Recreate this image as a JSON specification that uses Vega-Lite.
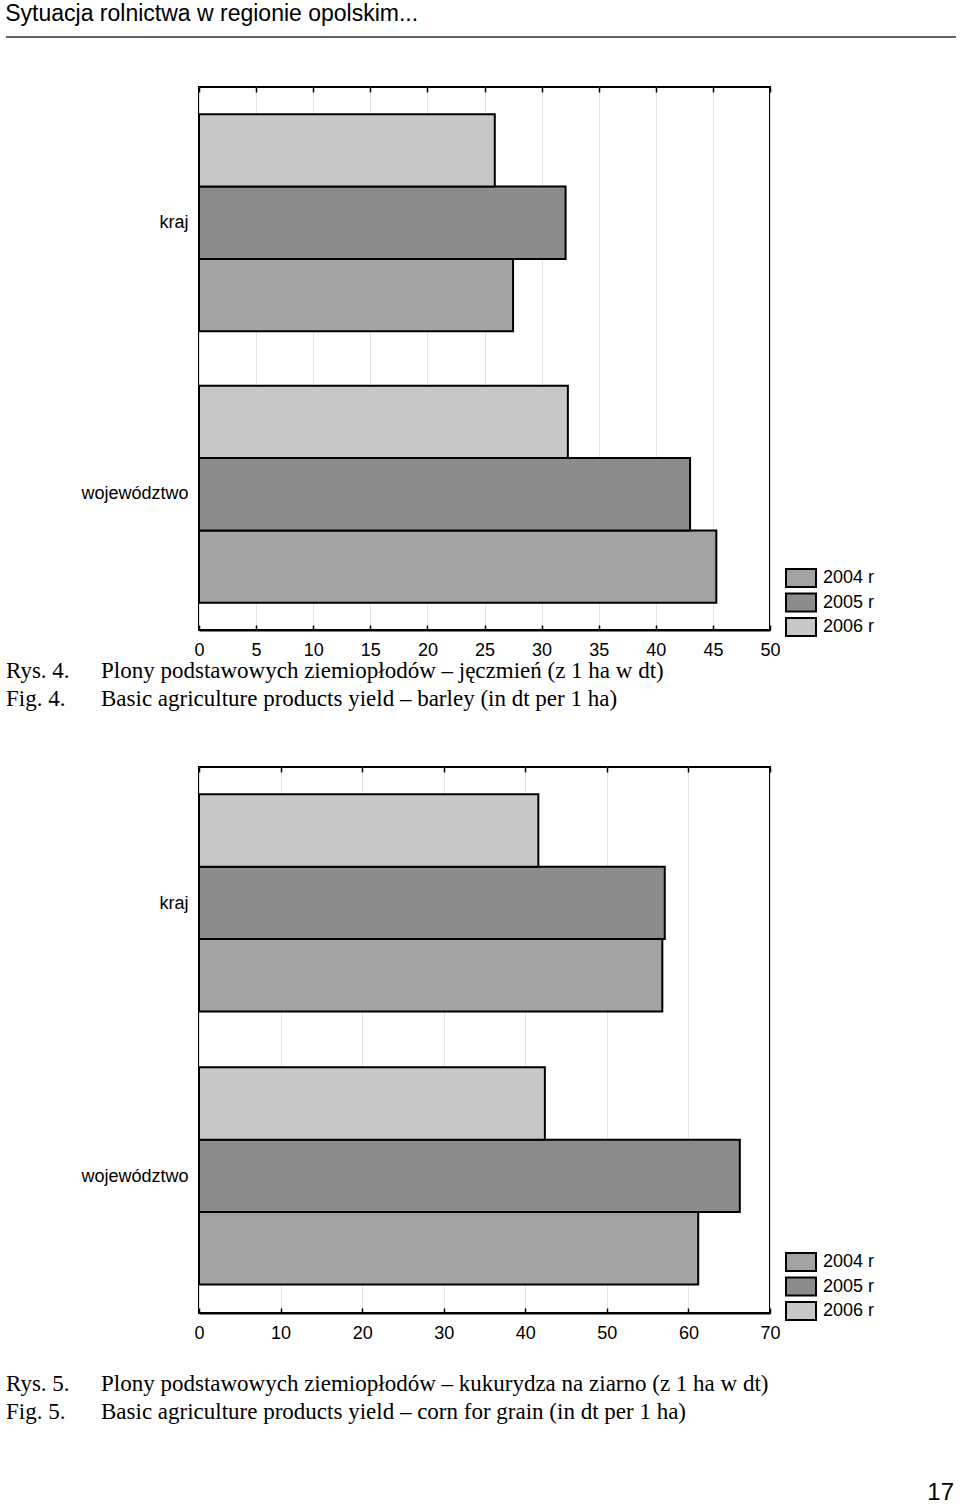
{
  "$schema": "https://vega.github.io/schema/vega-lite/v6.json",
  "background": "white",
  "padding": {"left": 5, "top": 3, "right": 5, "bottom": 0},
  "spacing": 0,
  "bounds": "flush",
  "resolve": {"scale": {"color": "independent"}, "legend": {"color": "independent"}},
  "config": {
    "font": "Liberation Sans",
    "view": {"stroke": "black", "strokeWidth": 2},
    "axis": {"labelFont": "Liberation Sans", "labelColor": "black", "labelFontSize": 18},
    "legend": {"labelFont": "Liberation Sans", "labelColor": "black", "labelFontSize": 18}
  },
  "datasets": {
    "barley": [
      {"region": "kraj", "rok": "2004 r", "plon": 27.5},
      {"region": "kraj", "rok": "2005 r", "plon": 32.1},
      {"region": "kraj", "rok": "2006 r", "plon": 25.9},
      {"region": "województwo", "rok": "2004 r", "plon": 45.3},
      {"region": "województwo", "rok": "2005 r", "plon": 43.0},
      {"region": "województwo", "rok": "2006 r", "plon": 32.3}
    ],
    "corn": [
      {"region": "kraj", "rok": "2004 r", "plon": 56.8},
      {"region": "kraj", "rok": "2005 r", "plon": 57.1},
      {"region": "kraj", "rok": "2006 r", "plon": 41.6},
      {"region": "województwo", "rok": "2004 r", "plon": 61.2},
      {"region": "województwo", "rok": "2005 r", "plon": 66.3},
      {"region": "województwo", "rok": "2006 r", "plon": 42.4}
    ],
    "cap1": [
      {"c": "l", "r": 1, "t": "Rys. 4."},
      {"c": "r", "r": 1, "t": "Plony podstawowych ziemiopłodów – jęczmień (z 1 ha w dt)"},
      {"c": "l", "r": 2, "t": "Fig. 4."},
      {"c": "r", "r": 2, "t": "Basic agriculture products yield – barley (in dt per 1 ha)"}
    ],
    "cap2": [
      {"c": "l", "r": 1, "t": "Rys. 5."},
      {"c": "r", "r": 1, "t": "Plony podstawowych ziemiopłodów – kukurydza na ziarno (z 1 ha w dt)"},
      {"c": "l", "r": 2, "t": "Fig. 5."},
      {"c": "r", "r": 2, "t": "Basic agriculture products yield – corn for grain  (in dt per 1 ha)"}
    ],
    "line": [{"a": 0, "b": 950}]
  },
  "vconcat": [
    {
      "width": 757,
      "height": 50,
      "view": {"stroke": null},
      "title": {"text": "Sytuacja rolnictwa w regionie opolskim...", "anchor": "start", "dx": 0, "fontSize": 23, "font": "Liberation Sans", "fontWeight": "normal", "color": "black", "baseline": "alphabetic", "offset": -8},
      "data": {"name": "line"},
      "mark": {"type": "rule", "color": "#333333", "strokeWidth": 1.5},
      "encoding": {
        "x": {"field": "a", "type": "quantitative", "scale": {"domain": [0, 950], "range": [-193, 757]}, "axis": null},
        "x2": {"field": "b"},
        "y": {"value": 0}
      }
    },
    {
      "width": 571,
      "height": 543,
      "data": {"name": "barley"},
      "layer": [
        {
          "mark": {"type": "bar", "stroke": "black", "strokeWidth": 2},
          "encoding": {
            "y": {"field": "region", "type": "nominal", "sort": ["kraj", "województwo"], "scale": {"paddingInner": 0.2, "paddingOuter": 0.1}, "axis": {"title": null, "ticks": false, "domain": false, "labelPadding": 11, "grid": false}},
            "yOffset": {"field": "rok", "sort": "descending"},
            "x": {"field": "plon", "type": "quantitative", "scale": {"domain": [0, 50], "nice": false}, "axis": {"orient": "bottom", "title": null, "values": [0, 5, 10, 15, 20, 25, 30, 35, 40, 45, 50], "labelFlush": false, "labelOverlap": false, "tickSize": -5, "tickColor": "black", "tickWidth": 1.5, "domainColor": "black", "domainWidth": 2, "grid": true, "gridColor": "#e4e4e4", "labelPadding": 16}},
            "color": {"field": "rok", "type": "nominal", "scale": {"domain": ["2004 r", "2005 r", "2006 r"], "range": ["#a3a3a3", "#8c8c8c", "#c8c8c8"]}, "legend": {"orient": "none", "legendX": 592, "legendY": 481, "title": null, "padding": 0, "symbolType": "M-1.667,-1H1.667V1H-1.667Z", "symbolSize": 324, "symbolStrokeColor": "black", "symbolStrokeWidth": 2, "symbolOpacity": 1, "labelOffset": 12, "rowPadding": -1.5}}
          }
        },
        {
          "mark": {"type": "bar", "opacity": 0},
          "encoding": {
            "y": {"field": "region", "type": "nominal", "sort": ["kraj", "województwo"]},
            "x": {"field": "plon", "type": "quantitative", "axis": {"orient": "top", "title": null, "values": [0, 5, 10, 15, 20, 25, 30, 35, 40, 45, 50], "labels": false, "tickSize": -5, "tickColor": "black", "tickWidth": 1.5, "domain": false, "grid": false}}
          }
        }
      ],
      "resolve": {"axis": {"x": "independent"}}
    },
    {
      "width": 757,
      "height": 137,
      "view": {"stroke": null},
      "data": {"name": "cap1"},
      "mark": {"type": "text", "font": "Liberation Serif", "fontSize": 23, "align": "left", "baseline": "alphabetic", "color": "black"},
      "encoding": {
        "x": {"field": "c", "type": "nominal", "scale": {"type": "point", "domain": ["l", "r"], "range": [-193, -98], "padding": 0}, "axis": null},
        "y": {"field": "r", "type": "ordinal", "scale": {"type": "point", "domain": [1, 2], "range": [48, 76], "padding": 0}, "axis": null},
        "text": {"field": "t"}
      }
    },
    {
      "width": 571,
      "height": 546,
      "data": {"name": "corn"},
      "layer": [
        {
          "mark": {"type": "bar", "stroke": "black", "strokeWidth": 2},
          "encoding": {
            "y": {"field": "region", "type": "nominal", "sort": ["kraj", "województwo"], "scale": {"paddingInner": 0.2, "paddingOuter": 0.1}, "axis": {"title": null, "ticks": false, "domain": false, "labelPadding": 11, "grid": false}},
            "yOffset": {"field": "rok", "sort": "descending"},
            "x": {"field": "plon", "type": "quantitative", "scale": {"domain": [0, 70], "nice": false}, "axis": {"orient": "bottom", "title": null, "values": [0, 10, 20, 30, 40, 50, 60, 70], "labelFlush": false, "labelOverlap": false, "tickSize": -5, "tickColor": "black", "tickWidth": 1.5, "domainColor": "black", "domainWidth": 2, "grid": true, "gridColor": "#e4e4e4", "labelPadding": 16}},
            "color": {"field": "rok", "type": "nominal", "scale": {"domain": ["2004 r", "2005 r", "2006 r"], "range": ["#a3a3a3", "#8c8c8c", "#c8c8c8"]}, "legend": {"orient": "none", "legendX": 592, "legendY": 485, "title": null, "padding": 0, "symbolType": "M-1.667,-1H1.667V1H-1.667Z", "symbolSize": 324, "symbolStrokeColor": "black", "symbolStrokeWidth": 2, "symbolOpacity": 1, "labelOffset": 12, "rowPadding": -1.5}}
          }
        },
        {
          "mark": {"type": "bar", "opacity": 0},
          "encoding": {
            "y": {"field": "region", "type": "nominal", "sort": ["kraj", "województwo"]},
            "x": {"field": "plon", "type": "quantitative", "axis": {"orient": "top", "title": null, "values": [0, 10, 20, 30, 40, 50, 60, 70], "labels": false, "tickSize": -5, "tickColor": "black", "tickWidth": 1.5, "domain": false, "grid": false}}
          }
        }
      ],
      "resolve": {"axis": {"x": "independent"}}
    },
    {
      "width": 757,
      "height": 150,
      "view": {"stroke": null},
      "title": {"text": "17", "orient": "bottom", "anchor": "end", "fontSize": 24, "font": "Liberation Sans", "fontWeight": "normal", "color": "black", "offset": 18, "dx": -2},
      "data": {"name": "cap2"},
      "mark": {"type": "text", "font": "Liberation Serif", "fontSize": 23, "align": "left", "baseline": "alphabetic", "color": "black"},
      "encoding": {
        "x": {"field": "c", "type": "nominal", "scale": {"type": "point", "domain": ["l", "r"], "range": [-193, -98], "padding": 0}, "axis": null},
        "y": {"field": "r", "type": "ordinal", "scale": {"type": "point", "domain": [1, 2], "range": [78, 106], "padding": 0}, "axis": null},
        "text": {"field": "t"}
      }
    }
  ]
}
